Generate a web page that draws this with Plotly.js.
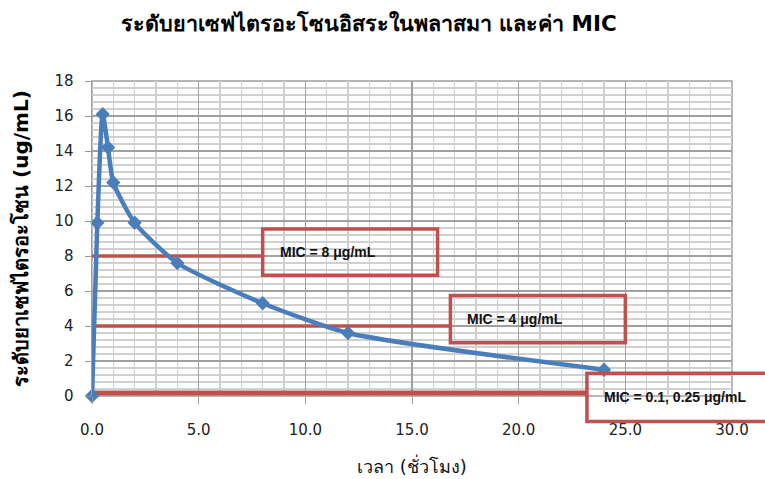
<!DOCTYPE html>
<html>
<head>
<meta charset="utf-8">
<script src="https://cdn.plot.ly/plotly-3.0.1.min.js"></script>
<style>
  html, body { margin: 0; padding: 0; background: #ffffff; }
  #chart { width: 765px; height: 479px; }
</style>
</head>
<body>
<div id="chart"></div>
<script>
// Ceftriaxone plasma concentration over time (hours, ug/mL)
const timeHours = [0, 0.25, 0.5, 0.75, 1, 2, 4, 8, 12, 24];
const concentration = [0, 9.9, 16.1, 14.2, 12.2, 9.9, 7.6, 5.3, 3.6, 1.5];

// MIC reference levels (ug/mL) and their labels
const micLevels = [8, 4, 0.25, 0.1];
const micLabels = ['MIC = 8 μg/mL', 'MIC = 4 μg/mL', 'MIC = 0.1, 0.25 μg/mL'];
// label box for each MIC label: left, right, bottom, top (axis units)
const micBoxLeft = [8.0, 16.8, 23.2];
const micBoxRight = [16.2, 25.0, 32.0];
const micBoxBottom = [6.9, 3.05, -1.45];
const micBoxTop = [9.55, 5.75, 1.3];
// which label box each MIC line runs into, and its stroke width
const micLineBox = [0, 1, 2, 2];
const micLineWidth = [3.5, 3.5, 2.5, 2.5];

const xRange = [0, 30];
const yRange = [0, 18];
const xTicks = [0, 5, 10, 15, 20, 25, 30];
const yTicks = [0, 2, 4, 6, 8, 10, 12, 14, 16, 18];

const titleText = 'ระดับยาเซฟไตรอะโซนอิสระในพลาสมา และค่า MIC';
const xTitle = 'เวลา (ชั่วโมง)';
const yTitle = 'ระดับยาเซฟไตรอะโซน (ug/mL)';

const RED = '#c0504d';
const BLUE = '#4a7ebb';
const FONT = 'Tahoma, "DejaVu Sans", "Noto Sans", sans-serif';

// axis units -> paper fraction (boxes may run past the plot area)
const px = v => (v - xRange[0]) / (xRange[1] - xRange[0]);
const py = v => (v - yRange[0]) / (yRange[1] - yRange[0]);

const traces = [];

// MIC lines from the y axis to their label boxes
micLevels.forEach((m, i) => {
  traces.push({
    type: 'scatter', mode: 'lines',
    x: [0, micBoxLeft[micLineBox[i]]], y: [m, m],
    line: { color: RED, width: micLineWidth[i] },
    hoverinfo: 'skip', showlegend: false, cliponaxis: false
  });
});

// concentration curve
traces.push({
  type: 'scatter', mode: 'lines+markers',
  x: timeHours, y: concentration,
  line: { color: BLUE, width: 4.5, shape: 'spline', smoothing: 0.6 },
  marker: { symbol: 'diamond', size: 11, color: BLUE },
  cliponaxis: false,
  showlegend: false
});

const shapes = micLabels.map((t, i) => ({
  type: 'rect', xref: 'paper', yref: 'paper', layer: 'above',
  x0: px(micBoxLeft[i]), x1: px(micBoxRight[i]),
  y0: py(micBoxBottom[i]), y1: py(micBoxTop[i]),
  line: { color: RED, width: 3.5 }, fillcolor: 'rgba(255,255,255,0)'
}));

const annotations = micLabels.map((t, i) => ({
  text: '<b>' + t + '</b>', xref: 'paper', yref: 'paper',
  x: px(micBoxLeft[i] + 0.7), y: py((micBoxBottom[i] + micBoxTop[i]) / 2),
  xanchor: 'left', yanchor: 'middle', showarrow: false,
  font: { family: 'Arial, "Liberation Sans", sans-serif', size: 14, color: '#111' }
}));

const layout = {
  width: 765, height: 479,
  margin: { l: 92, r: 33, t: 81, b: 83 },
  paper_bgcolor: '#ffffff', plot_bgcolor: '#ffffff',
  showlegend: false,
  title: {
    text: titleText, xref: 'container', yref: 'container',
    x: 0.482, y: 0.952, xanchor: 'center', yanchor: 'middle',
    font: { family: FONT, size: 21.5, color: '#000', weight: 'bold' }
  },
  xaxis: {
    range: xRange, tickvals: xTicks, ticktext: xTicks.map(v => v.toFixed(1)),
    showgrid: true, gridcolor: '#a0a0a0', gridwidth: 1.5,
    minor: { dtick: 1, showgrid: true, gridcolor: '#d0d0d0', gridwidth: 1.5 },
    showline: false, zeroline: false,
    ticks: 'outside', ticklen: 7, tickcolor: '#999', tickwidth: 1,
    ticklabelstandoff: 13,
    tickfont: { family: FONT, size: 15, color: '#222' },
    title: { text: xTitle, standoff: 22, font: { family: FONT, size: 18, color: '#111' } },
    fixedrange: true
  },
  yaxis: {
    range: yRange, tickvals: yTicks,
    showgrid: true, gridcolor: '#a0a0a0', gridwidth: 1.5,
    minor: { dtick: 0.4, showgrid: true, gridcolor: '#d0d0d0', gridwidth: 1.5 },
    showline: true, linecolor: '#a0a0a0', linewidth: 1.5, mirror: false,
    zeroline: false,
    ticks: 'outside', ticklen: 6, tickcolor: '#999', tickwidth: 1,
    ticklabelstandoff: 8,
    tickfont: { family: FONT, size: 15, color: '#222' },
    title: { text: yTitle, standoff: 20, font: { family: FONT, size: 20, color: '#000', weight: 'bold' } },
    fixedrange: true
  },
  shapes: shapes.concat([{
    type: 'rect', xref: 'paper', yref: 'paper', x0: 0, x1: 1, y0: 0, y1: 1,
    line: { color: '#a0a0a0', width: 1.5 }, layer: 'below'
  }]),
  annotations: annotations
};

Plotly.newPlot('chart', traces, layout, { displayModeBar: false, staticPlot: true });
</script>
</body>
</html>
